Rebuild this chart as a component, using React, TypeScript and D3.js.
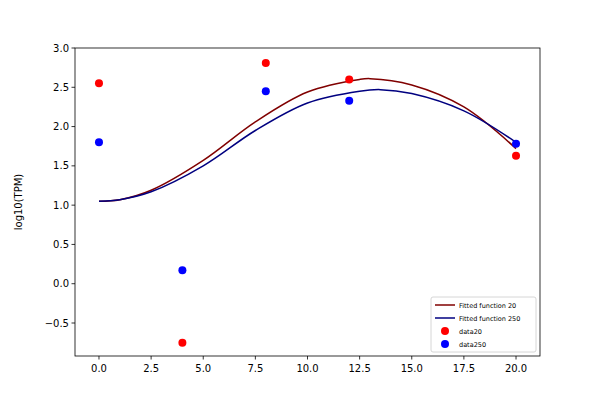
import * as d3 from "d3"

const fitX = [0, 1, 2.5, 5, 7.5, 10, 12.5, 13, 15, 17.5, 20]
const fit20 = [1.05, 1.07, 1.19, 1.57, 2.06, 2.44, 2.6, 2.61, 2.53, 2.25, 1.72]
const fitX250 = [0, 1, 2.5, 5, 7.5, 10, 12.5, 13.5, 15, 17.5, 20]
const fit250 = [1.05, 1.07, 1.17, 1.5, 1.95, 2.3, 2.45, 2.47, 2.42, 2.2, 1.8]
const dataX = [0, 4, 8, 12, 20]
const data20 = [2.55, -0.75, 2.81, 2.6, 1.63]
const data250 = [1.8, 0.17, 2.45, 2.33, 1.78]
const xTicks = [0, 2.5, 5, 7.5, 10, 12.5, 15, 17.5, 20]
const yTicks = [-0.5, 0, 0.5, 1, 1.5, 2, 2.5, 3]

export default function App() {
  const L = 75, R = 540, T = 48, B = 356
  const x = d3.scaleLinear().domain([-1.15, 21.15]).range([L, R])
  const y = d3.scaleLinear().domain([-0.92, 3.0]).range([B, T])
  const line = d3.line<[number, number]>().x(d => x(d[0])).y(d => y(d[1])).curve(d3.curveCatmullRom)
  const p20 = line(fitX.map((v, i) => [v, fit20[i]]))!
  const p250 = line(fitX250.map((v, i) => [v, fit250[i]]))!
  const font = "DejaVu Sans"
  return (
    <svg width={600} height={400} style={{ position: "absolute", left: 0, top: 0 }} fontFamily={font}>
      <rect width={600} height={400} fill="white" />
      <path d={p20} fill="none" stroke="#800000" strokeWidth={1.5} />
      <path d={p250} fill="none" stroke="#000080" strokeWidth={1.5} />
      {dataX.map((v, i) => <circle key={"r" + i} cx={x(v)} cy={y(data20[i])} r={4} fill="red" />)}
      {dataX.map((v, i) => <circle key={"b" + i} cx={x(v)} cy={y(data250[i])} r={4} fill="blue" />)}
      <rect x={L} y={T} width={R - L} height={B - T} fill="none" stroke="black" strokeWidth={0.8} />
      {xTicks.map(t => (
        <g key={t} transform={`translate(${x(t)},${B})`}>
          <line y2={3.5} stroke="black" strokeWidth={0.8} />
          <text y={16} textAnchor="middle" fontSize={10}>{t.toFixed(1)}</text>
        </g>
      ))}
      {yTicks.map(t => (
        <g key={t} transform={`translate(${L},${y(t)})`}>
          <line x2={-3.5} stroke="black" strokeWidth={0.8} />
          <text x={-6} dy="0.35em" textAnchor="end" fontSize={10}>{t < 0 ? "\u2212" + Math.abs(t).toFixed(1) : t.toFixed(1)}</text>
        </g>
      ))}
      <text transform={`translate(22,${(T + B) / 2}) rotate(-90)`} textAnchor="middle" fontSize={10}>log10(TPM)</text>
      <g transform="translate(431,297)" fontSize={6.5}>
        <rect width={105} height={55} rx={2} fill="white" stroke="#ccc" strokeWidth={0.8} />
        <line x1={4} x2={24} y1={8} y2={8} stroke="#800000" strokeWidth={1.5} />
        <text x={28} y={10.5}>Fitted function 20</text>
        <line x1={4} x2={24} y1={21} y2={21} stroke="#000080" strokeWidth={1.5} />
        <text x={28} y={23.5}>Fitted function 250</text>
        <circle cx={14} cy={34} r={4} fill="red" />
        <text x={28} y={36.5}>data20</text>
        <circle cx={14} cy={47} r={4} fill="blue" />
        <text x={28} y={49.5}>data250</text>
      </g>
    </svg>
  )
}
